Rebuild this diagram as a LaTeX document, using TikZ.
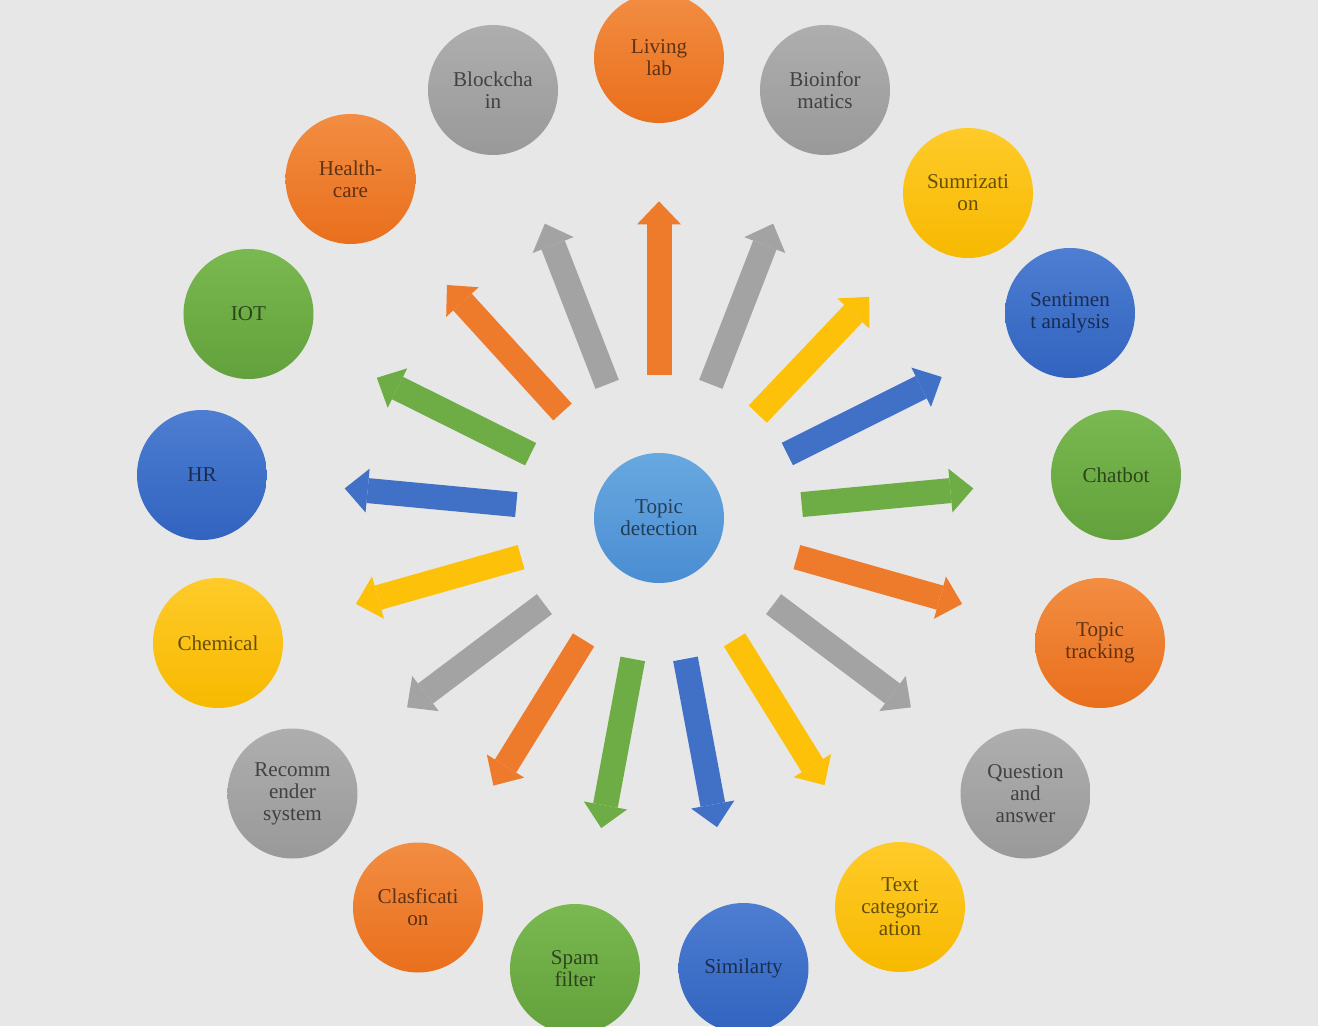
\documentclass[tikz,border=0pt]{standalone}
\usepackage{fontspec}
\setmainfont{Liberation Serif}
\usepackage{xcolor}
\usepackage{tikz}
\usetikzlibrary{arrows.meta}

\definecolor{bgc}{HTML}{E7E7E7}
\definecolor{orA}{HTML}{F28D42}
\definecolor{orB}{HTML}{E96F1C}
\definecolor{orC}{HTML}{EE7B2C}
\definecolor{grA}{HTML}{AEAEAE}
\definecolor{grB}{HTML}{999999}
\definecolor{grC}{HTML}{A3A3A3}
\definecolor{yeA}{HTML}{FFCB2A}
\definecolor{yeB}{HTML}{F7B900}
\definecolor{yeC}{HTML}{FDC10A}
\definecolor{blA}{HTML}{4D7ED2}
\definecolor{blB}{HTML}{3263BF}
\definecolor{blC}{HTML}{4170C7}
\definecolor{gnA}{HTML}{7AB851}
\definecolor{gnB}{HTML}{62A13B}
\definecolor{gnC}{HTML}{6EAD46}
\definecolor{lbA}{HTML}{68A8E0}
\definecolor{lbB}{HTML}{4A8DD2}

\begin{document}
\begin{tikzpicture}[
    ball/.style={circle,minimum size=2.6cm,inner sep=0pt,align=center,
      text=black,text opacity=0.6,font=\fontsize{12}{12.5}\selectfont},
    orball/.style={ball,top color=orA,bottom color=orB},
    grball/.style={ball,top color=grA,bottom color=grB},
    yeball/.style={ball,top color=yeA,bottom color=yeB},
    blball/.style={ball,top color=blA,bottom color=blB},
    gnball/.style={ball,top color=gnA,bottom color=gnB},
    arr/.style={line width=0.5cm,shorten <=1.56cm,shorten >=1.56cm,
      -{Triangle[width=0.88cm,length=0.46cm,line width=0pt]}}]
    \fill[bgc] (-13.18,-10.16) rectangle (13.18,10.36);
    \useasboundingbox (-13.18,-10.16) rectangle (13.18,10.36);
    % centre
    \node[ball,top color=lbA,bottom color=lbB] (0) at (0,0) {Topic\\detection};
    % outer ring
    \node[orball] (1) at (0,9.2) {Living\\lab};
    \node[grball] (2) at (3.32,8.56) {Bioinfor\\matics};
    \node[yeball] (3) at (6.18,6.50) {Sumrizati\\on};
    \node[blball] (4) at (8.22,4.10) {Sentimen\\t analysis};
    \node[gnball] (5) at (9.14,0.86) {Chatbot};
    \node[orball] (6) at (8.82,-2.50) {Topic\\tracking};
    \node[grball] (7) at (7.33,-5.51) {Question\\and\\answer};
    \node[yeball] (8) at (4.82,-7.78) {Text\\categoriz\\ation};
    \node[blball] (9) at (1.69,-9.00) {Similarty};
    \node[gnball] (10) at (-1.68,-9.02) {Spam\\filter};
    \node[orball] (11) at (-4.82,-7.79) {Clasficati\\on};
    \node[grball] (12) at (-7.33,-5.51) {Recomm\\ender\\system};
    \node[yeball] (13) at (-8.82,-2.50) {Chemical};
    \node[blball] (14) at (-9.14,0.86) {HR};
    \node[gnball] (15) at (-8.21,4.08) {IOT};
    \node[orball] (16) at (-6.17,6.78) {Health-\\care};
    \node[grball] (17) at (-3.32,8.56) {Blockcha\\in};
    % arrows
    \draw[arr,orC] (0) to (1);
    \draw[arr,grC] (0) to (2);
    \draw[arr,yeC] (0) to (3);
    \draw[arr,blC] (0) to (4);
    \draw[arr,gnC] (0) to (5);
    \draw[arr,orC] (0) to (6);
    \draw[arr,grC] (0) to (7);
    \draw[arr,yeC] (0) to (8);
    \draw[arr,blC] (0) to (9);
    \draw[arr,gnC] (0) to (10);
    \draw[arr,orC] (0) to (11);
    \draw[arr,grC] (0) to (12);
    \draw[arr,yeC] (0) to (13);
    \draw[arr,blC] (0) to (14);
    \draw[arr,gnC] (0) to (15);
    \draw[arr,orC] (0) to (16);
    \draw[arr,grC] (0) to (17);
\end{tikzpicture}
\end{document}
